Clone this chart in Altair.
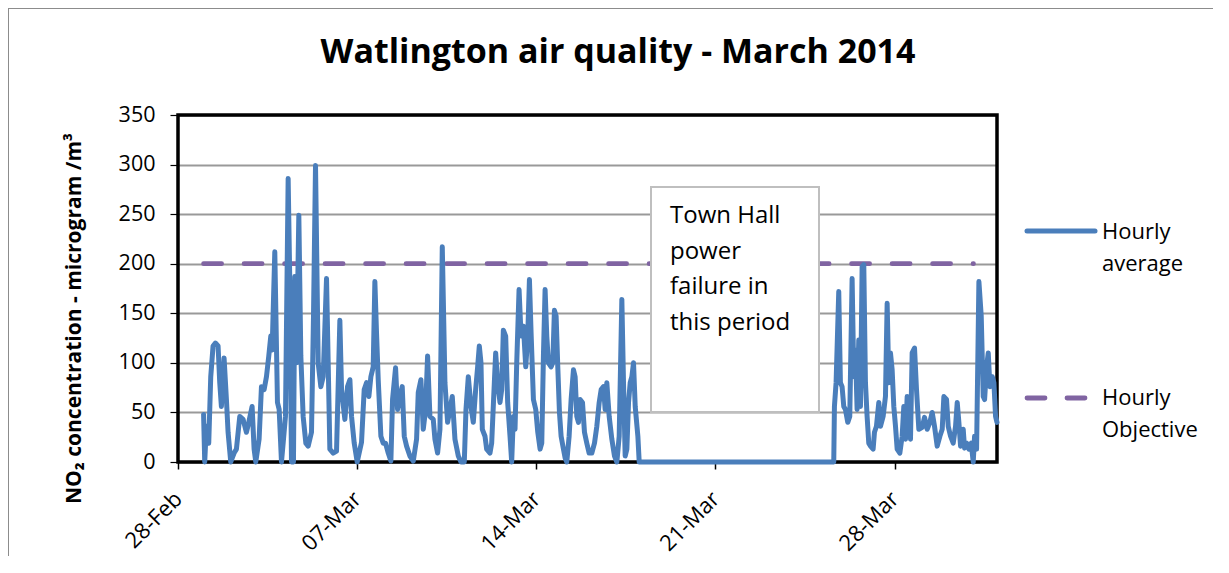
import altair as alt
import pandas as pd

# ---------------- data ----------------
# time as days after 28-Feb-2014 00:00, NO2 hourly average (microgram/m3)
day_offsets = [
    1.00, 1.044, 1.109, 1.201, 1.279, 1.370, 1.461, 1.566, 1.631, 1.696,
    1.800, 1.892, 1.957, 2.061, 2.191, 2.283, 2.413, 2.543, 2.674, 2.765,
    2.895, 2.974, 3.039, 3.169, 3.261, 3.365, 3.456, 3.547, 3.626, 3.678,
    3.782, 3.886, 3.952, 4.043, 4.108, 4.199, 4.304, 4.369, 4.434, 4.512,
    4.564, 4.630, 4.721, 4.799, 4.890, 4.995, 5.086, 5.216, 5.294, 5.373,
    5.477, 5.581, 5.673, 5.803, 5.868, 5.933, 6.064, 6.194, 6.324, 6.390,
    6.520, 6.624, 6.716, 6.781, 6.885, 7.002,
    7.171, 7.275, 7.366, 7.458, 7.536, 7.627, 7.692, 7.757, 7.823, 7.927,
    8.018, 8.109, 8.214, 8.318, 8.383, 8.501, 8.579, 8.670, 8.761, 8.840,
    8.931, 9.061, 9.192, 9.322, 9.387, 9.491, 9.583, 9.674, 9.752, 9.843,
    9.974, 10.039, 10.143, 10.235, 10.326, 10.430, 10.534, 10.626, 10.717, 10.821,
    10.952, 11.056, 11.186, 11.252, 11.343, 11.447, 11.538, 11.630, 11.708, 11.773,
    11.838, 11.890, 11.995, 12.060, 12.190, 12.256, 12.360, 12.412, 12.490, 12.581,
    12.647, 12.712, 12.803, 12.881, 12.973, 13.038, 13.103, 13.168, 13.235, 13.326,
    13.405, 13.496, 13.587, 13.665, 13.731, 13.796, 13.887, 13.978, 14.057, 14.148,
    14.213, 14.278, 14.343, 14.409, 14.474, 14.578, 14.643, 14.708, 14.774, 14.839,
    14.904, 14.969, 15.060, 15.126, 15.191, 15.282, 15.360, 15.452, 15.517, 15.582,
    15.647, 15.712, 15.804, 15.882, 15.973, 16.064, 16.169, 16.273, 16.364, 16.456,
    16.534, 16.625, 16.690, 16.755, 16.847, 16.951, 17.055, 17.147, 17.238, 17.342,
    17.407, 17.472, 17.538, 17.603, 17.668, 17.733, 17.798, 17.864, 17.968, 18.020,
    25.622,
    25.648, 25.713, 25.817, 25.882, 25.947, 26.013, 26.078, 26.169, 26.247, 26.339,
    26.404, 26.469, 26.534, 26.599, 26.665, 26.730, 26.795, 26.860, 26.925, 26.990,
    27.056, 27.160, 27.212, 27.290, 27.382, 27.447, 27.551, 27.642, 27.708, 27.773,
    27.838, 27.903, 27.968, 28.034, 28.099, 28.203, 28.294, 28.359, 28.425, 28.490,
    28.555, 28.620, 28.685, 28.777, 28.855, 28.946, 29.077, 29.168, 29.272, 29.376,
    29.468, 29.559, 29.663, 29.768, 29.859, 29.924, 30.028, 30.094, 30.185, 30.289,
    30.380, 30.446, 30.511, 30.576, 30.680, 30.732, 30.811, 30.902, 30.993, 31.071,
    31.124, 31.202, 31.293, 31.384, 31.462, 31.515, 31.593, 31.658, 31.723, 31.814,
    31.879, 31.944, 32.00,
]
no2_values = [
    48, 0, 36, 19, 86, 117, 120, 117, 80, 56,
    105, 63, 30, 0, 9, 13, 46, 43, 30, 40,
    56, 13, 0, 23, 76, 73, 86, 107, 127, 113,
    212, 60, 53, 0, 19, 46, 286, 180, 0, 0,
    187, 100, 249, 107, 46, 19, 16, 30, 147, 299,
    100, 76, 86, 185, 100, 13, 9, 11, 143, 73,
    43, 76, 83, 46, 19, 0,
    20, 73, 80, 66, 86, 96, 182, 130, 83, 26,
    19, 19, 9, 1, 63, 95, 53, 66, 76, 26,
    16, 6, 1, 23, 70, 83, 33, 53, 107, 46,
    43, 23, 9, 33, 217, 80, 40, 53, 66, 23,
    6, 0, 0, 53, 86, 56, 40, 73, 96, 117,
    100, 33, 26, 13, 9, 19, 80, 110, 80, 60,
    73, 133, 127, 60, 26, 0, 46, 33, 100, 174,
    127, 137, 96, 127, 184, 130, 63, 53, 30, 13,
    19, 107, 174, 127, 100, 96, 100, 153, 147, 96,
    50, 26, 13, 4, 0, 26, 63, 93, 86, 46,
    40, 63, 60, 30, 19, 9, 9, 19, 36, 60,
    73, 76, 53, 80, 46, 23, 6, 0, 26, 164,
    80, 6, 13, 60, 80, 86, 100, 56, 26, 0,
    0,
    56, 80, 172, 80, 76, 56, 53, 40, 46, 185,
    86, 113, 53, 123, 56, 197, 199, 80, 46, 19,
    16, 13, 30, 36, 60, 36, 46, 66, 160, 80,
    110, 93, 56, 36, 13, 9, 26, 56, 23, 66,
    60, 23, 110, 115, 73, 33, 35, 45, 33, 40,
    50, 36, 16, 26, 33, 66, 63, 36, 26, 19,
    36, 60, 40, 16, 33, 14, 19, 13, 19, 0,
    26, 13, 182, 147, 66, 63, 96, 110, 76, 86,
    80, 46, 40,
]
objective_days = [1.0, 31.08]
objective_values = [200, 200]
x_tick_dates = ["2014-02-28", "2014-03-07", "2014-03-14", "2014-03-21", "2014-03-28"]
x_domain_dates = ["2014-02-28", "2014-04-01"]
y_ticks = [0, 50, 100, 150, 200, 250, 300, 350]
series_names = ["Hourly average", "Hourly Objective"]

# ---------------- build tables ----------------
base = pd.Timestamp("2014-02-28")


def to_ms(d):
    return int((base + pd.Timedelta(days=d)).value // 10**6)


def date_ms(s):
    return int(pd.Timestamp(s).value // 10**6)


hourly = pd.DataFrame({"t": [to_ms(d) for d in day_offsets], "v": no2_values})
objective = pd.DataFrame({"t": [to_ms(d) for d in objective_days], "v": objective_values})

FONT = "Open Sans"
BLUE = "#4A7EBB"
PURPLE = "#8064A2"
W, H = 819, 347

x_enc = alt.X(
    "t:T",
    scale=alt.Scale(type="utc", domain=[date_ms(d) for d in x_domain_dates], nice=False),
    axis=alt.Axis(
        values=[date_ms(d) for d in x_tick_dates],
        labelExpr="utcFormat(datum.value, '%d-%b')",
        labelAngle=-45, labelAlign="right", labelBaseline="middle",
        labelPadding=26, labelFlush=False, labelOverlap=False, labelBound=False,
        tickSize=7, tickColor="black", tickWidth=1.5, domain=False, grid=False,
        labelFont=FONT, labelFontSize=22, labelColor="black", title=None,
    ),
)
y_enc = alt.Y(
    "v:Q",
    scale=alt.Scale(domain=[0, 350], nice=False),
    axis=alt.Axis(
        values=y_ticks, tickSize=8, tickColor="black", tickWidth=1.2, domain=False,
        labelPadding=15, labelFont=FONT, labelFontSize=21.5, labelColor="black",
        grid=True, gridColor="#999999", gridWidth=2,
        title="NO\u2082 concentration - microgram /m\u00b3",
        titleFont=FONT, titleFontSize=21, titleFontWeight="bold", titleColor="black",
        titleX=-104, titleY=203, titleBaseline="middle", titleAngle=-90,
    ),
)

one = alt.Data(values=[{}])

frame = alt.Chart(one).mark_rect(fill="white", fillOpacity=0, stroke="#8C8C8C", strokeWidth=2).encode(
    x=alt.value(-170), x2=alt.value(1100), y=alt.value(-107), y2=alt.value(500)
)

plot_border = alt.Chart(one).mark_rect(fillOpacity=0, stroke="black", strokeWidth=3.5).encode(
    x=alt.value(0), x2=alt.value(W), y=alt.value(0), y2=alt.value(H)
)

obj_line = alt.Chart(objective).mark_line(
    color=PURPLE, strokeWidth=4.8, strokeDash=[18, 22.5], strokeCap="round"
).encode(x=x_enc, y=y_enc)

hourly_line = alt.Chart(hourly).mark_line(
    color=BLUE, strokeWidth=5, strokeJoin="round", strokeCap="round"
).encode(x=x_enc, y=y_enc)

note_box = alt.Chart(one).mark_rect(fill="white", stroke="#BFBFBF", strokeWidth=2).encode(
    x=alt.value(473), x2=alt.value(641), y=alt.value(72), y2=alt.value(297)
)
note_text = alt.Chart(one).mark_text(
    align="left", baseline="alphabetic", font=FONT, fontSize=24, lineHeight=35.5,
    lineBreak="\n", color="black"
).encode(x=alt.value(492), y=alt.value(108), text=alt.value("Town Hall\npower\nfailure in\nthis period"))

title = alt.Chart(one).mark_text(
    align="center", baseline="middle", font=FONT, fontSize=34, fontWeight="bold", color="black"
).encode(x=alt.value(440), y=alt.value(-62), text=alt.value("Watlington air quality - March 2014"))

leg_blue = alt.Chart(one).mark_rule(color=BLUE, strokeWidth=5, strokeCap="round").encode(
    x=alt.value(849), x2=alt.value(917), y=alt.value(116)
)
leg_purple = alt.Chart(one).mark_rule(
    color=PURPLE, strokeWidth=4.8, strokeCap="round", strokeDash=[18, 22]
).encode(x=alt.value(849), x2=alt.value(907), y=alt.value(283))
leg_text1 = alt.Chart(one).mark_text(
    align="left", baseline="alphabetic", font=FONT, fontSize=22, lineHeight=32, lineBreak="\n", color="black"
).encode(x=alt.value(924), y=alt.value(124), text=alt.value(series_names[0].replace(" ", "\n")))
leg_text2 = alt.Chart(one).mark_text(
    align="left", baseline="alphabetic", font=FONT, fontSize=22, lineHeight=32, lineBreak="\n", color="black"
).encode(x=alt.value(924), y=alt.value(290), text=alt.value(series_names[1].replace(" ", "\n")))

chart = alt.layer(
    frame, plot_border, obj_line, hourly_line, note_box, note_text, title,
    leg_blue, leg_purple, leg_text1, leg_text2,
).properties(
    width=W, height=H,
    padding={"left": 170, "top": 107, "right": 216, "bottom": 94},
    autosize=alt.AutoSizeParams(type="none"),
    background="white",
).configure_view(
    strokeWidth=0
)

chart.save("out.html", embed_options={"renderer": "svg", "actions": False})
